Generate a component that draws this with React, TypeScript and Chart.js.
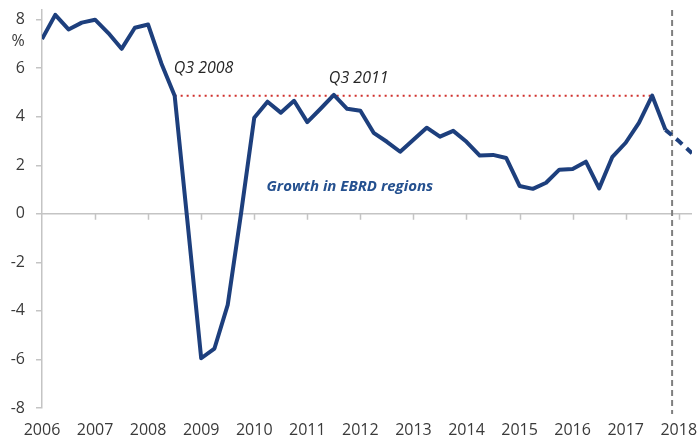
import React, { useEffect, useRef } from "react";
import { Chart, registerables } from "chart.js";

Chart.register(...registerables);

// Quarterly growth, 2006 Q1 .. 2017 Q4 (index 0 = 2006 Q1)
const growthActual: number[] = [
  7.2, 8.2, 7.6, 7.88, 8.0, 7.45, 6.8, 7.67, 7.8, 6.2, 4.87, -0.5,
  -5.95, -5.55, -3.75, 0.0, 3.96, 4.62, 4.17, 4.66, 3.78, 4.33, 4.9, 4.33,
  4.25, 3.34, 2.97, 2.56, 3.05, 3.55, 3.18, 3.42, 2.97, 2.4, 2.43, 2.3,
  1.15, 1.03, 1.28, 1.82, 1.85, 2.15, 1.05, 2.35, 2.93, 3.75, 4.87, 3.46,
];
// Forecast continuation (indexes 47..49)
const forecastStartIndex = 47;
const growthForecast: number[] = [3.46, 3.0, 2.5];

// Reference level (Q3 2008) spanning Q3 2008 .. Q3 2017
const refLevel = 4.87;
const refFromIndex = 10;
const refToIndex = 46;

const forecastMarkerIndex = 47.5;

const yearLabels: string[] = [
  "2006", "2007", "2008", "2009", "2010", "2011", "2012",
  "2013", "2014", "2015", "2016", "2017", "2018",
];
const yTicks: number[] = [-8, -6, -4, -2, 0, 2, 4, 6, 8];

const annotations = [
  { text: "Q3 2008", index: 10, value: 6.0, style: "italic 16px 'Open Sans'", color: "#262626" },
  { text: "Q3 2011", index: 21.7, value: 5.6, style: "italic 16px 'Open Sans'", color: "#262626" },
  { text: "Growth in EBRD regions", index: 17, value: 1.1, style: "italic bold 15px 'Open Sans'", color: "#24508f" },
];

const LINE_COLOR = "#1d3f7d";
const AXIS_COLOR = "#c4c4c4";

export default function App() {
  const ref = useRef<HTMLCanvasElement | null>(null);

  useEffect(() => {
    if (!ref.current) return;

    const overlay = {
      id: "overlay",
      beforeDatasetsDraw(chart: any) {
        const { ctx, chartArea, scales } = chart;
        const xs = scales.x;
        const ys = scales.y;
        const y0 = ys.getPixelForValue(0);
        ctx.save();
        ctx.strokeStyle = AXIS_COLOR;
        ctx.lineWidth = 1.5;
        ctx.beginPath();
        ctx.moveTo(chartArea.left, y0);
        ctx.lineTo(chartArea.right, y0);
        yearLabels.forEach((_, k) => {
          if (k === 0) return;
          const px = Math.round(xs.getPixelForValue(k * 4)) + 0.5;
          ctx.moveTo(px, y0);
          ctx.lineTo(px, y0 + 6);
        });
        ctx.stroke();
        const fx = xs.getPixelForValue(forecastMarkerIndex);
        ctx.strokeStyle = "#7f7f7f";
        ctx.lineWidth = 2;
        ctx.setLineDash([6, 4]);
        ctx.beginPath();
        ctx.moveTo(fx, chartArea.top);
        ctx.lineTo(fx, chartArea.bottom + 6);
        ctx.stroke();
        ctx.restore();
      },
      afterDraw(chart: any) {
        const { ctx, scales } = chart;
        const xs = scales.x;
        const ys = scales.y;
        ctx.save();
        ctx.textBaseline = "middle";
        ctx.textAlign = "left";
        annotations.forEach((a) => {
          ctx.font = a.style;
          ctx.fillStyle = a.color;
          ctx.fillText(a.text, xs.getPixelForValue(a.index) - 1, ys.getPixelForValue(a.value));
        });
        ctx.font = "16px 'Open Sans'";
        ctx.fillStyle = "#3a3a3a";
        ctx.textAlign = "center";
        ctx.fillText("%", 18, ys.getPixelForValue(7.1));
        ctx.restore();
      },
    };

    const chart = new Chart(ref.current, {
      type: "line",
      data: {
        datasets: [
          {
            label: "ref",
            data: [
              { x: refFromIndex, y: refLevel },
              { x: refToIndex, y: refLevel },
            ],
            borderColor: "#d0302c",
            borderWidth: 2,
            borderDash: [2, 4],
            pointRadius: 0,
            order: 3,
          },
          {
            label: "Growth in EBRD regions",
            data: growthActual.map((v, i) => ({ x: i, y: v })),
            borderColor: LINE_COLOR,
            borderWidth: 4,
            pointRadius: 0,
            tension: 0,
            borderJoinStyle: "round",
            order: 1,
          },
          {
            label: "forecast",
            data: growthForecast.map((v, i) => ({ x: forecastStartIndex + i, y: v })),
            borderColor: LINE_COLOR,
            borderWidth: 4,
            borderDash: [8, 6],
            pointRadius: 0,
            order: 2,
          },
        ],
      },
      options: {
        animation: false,
        responsive: false,
        layout: { padding: { top: 10, right: 7, left: 0, bottom: 0 } },
        plugins: {
          legend: { display: false },
          tooltip: { enabled: false },
        },
        scales: {
          x: {
            type: "linear",
            min: 0,
            max: 49,
            border: { display: false },
            grid: { display: true, drawOnChartArea: false, drawTicks: false, color: "rgba(0,0,0,0)" },
            afterBuildTicks: (scale: any) => {
              scale.ticks = yearLabels.map((_, k) => ({ value: k * 4 }));
            },
            afterFit: (scale: any) => {
              scale.height = 35;
              scale.paddingLeft = 0;
              scale.paddingRight = 0;
            },
            ticks: {
              padding: 13,
              maxRotation: 0,
              autoSkip: false,
              color: "#3a3a3a",
              font: { family: "'Open Sans'", size: 16 },
              callback: (v: any) => yearLabels[Math.round(Number(v) / 4)] ?? "",
            },
          },
          y: {
            type: "linear",
            min: -8,
            max: 8.4,
            border: { display: true, color: AXIS_COLOR, width: 1.5 },
            grid: { drawOnChartArea: false, drawTicks: true, tickLength: 6, color: AXIS_COLOR, lineWidth: 1.5 },
            afterBuildTicks: (scale: any) => {
              scale.ticks = yTicks.map((v) => ({ value: v }));
            },
            afterFit: (scale: any) => {
              scale.width = 42;
              scale.paddingTop = 0;
              scale.paddingBottom = 0;
            },
            ticks: {
              padding: 11,
              color: "#3a3a3a",
              font: { family: "'Open Sans'", size: 16 },
              callback: (v: any) => String(v),
            },
          },
        },
      },
      plugins: [overlay],
    });

    return () => chart.destroy();
  }, []);

  return (
    <div style={{ position: "fixed", left: 0, top: 0, width: 699, height: 443, background: "#fff" }}>
      <canvas ref={ref} width={699} height={443} />
    </div>
  );
}
